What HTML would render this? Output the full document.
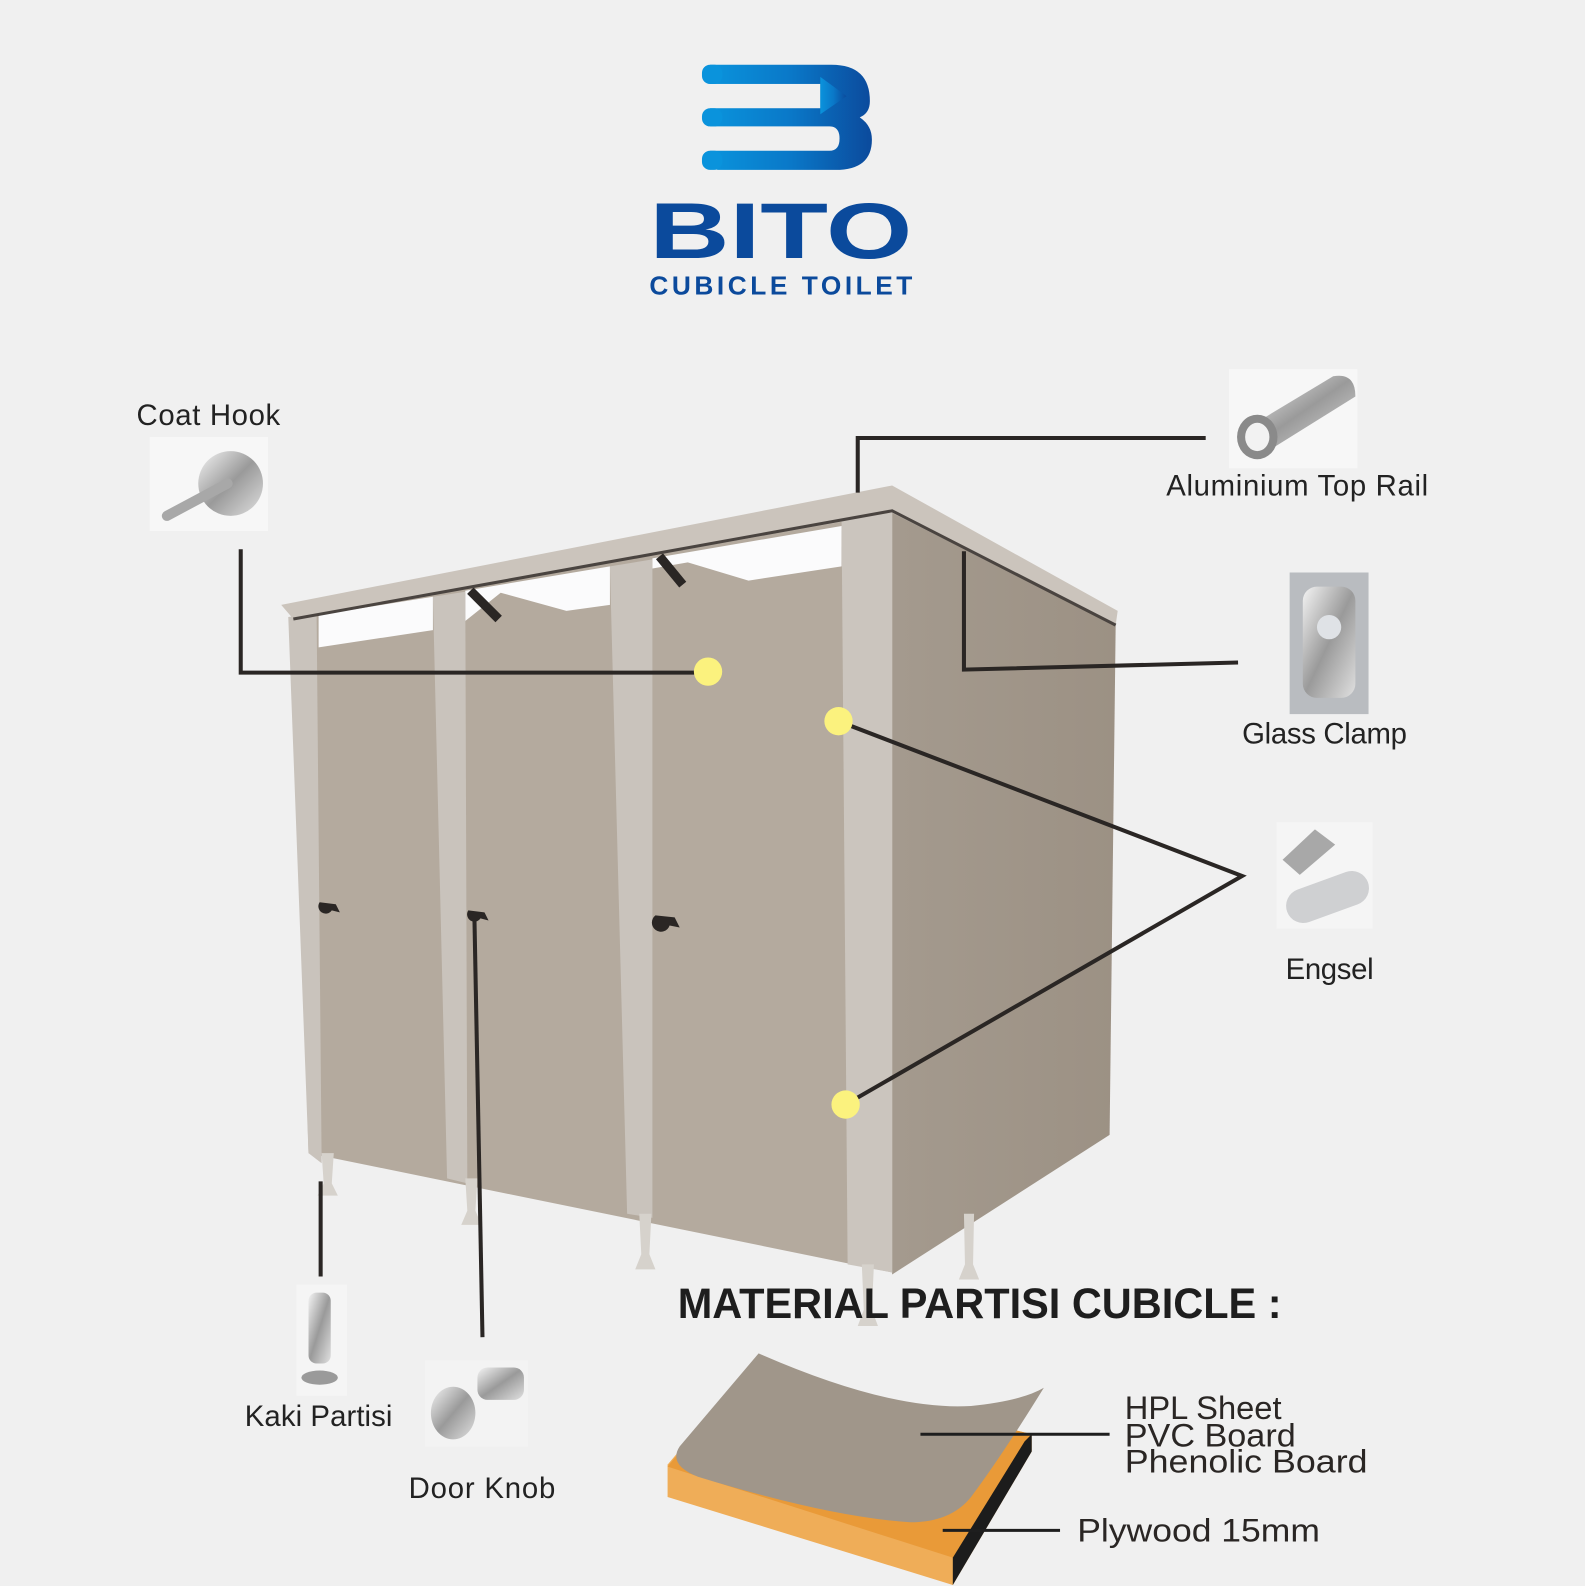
<!DOCTYPE html>
<html><head><meta charset="utf-8"><style>
html,body{margin:0;padding:0;background:#f0f0f0}
svg{display:block}
text{font-family:"Liberation Sans",sans-serif}
</style></head><body>
<svg width="1585" height="1586" viewBox="0 0 1567 1568" preserveAspectRatio="none" xmlns="http://www.w3.org/2000/svg">
<defs>
<linearGradient id="lg" x1="0" x2="1" y1="0" y2="0"><stop offset="0" stop-color="#0a93dc"/><stop offset="0.5" stop-color="#0a78c8"/><stop offset="1" stop-color="#0b4a9c"/></linearGradient>
<linearGradient id="met" x1="0" x2="1" y1="0" y2="1"><stop offset="0" stop-color="#f4f4f4"/><stop offset="0.5" stop-color="#9a9a9a"/><stop offset="1" stop-color="#e0e0e0"/></linearGradient>
<linearGradient id="side" x1="0" x2="1"><stop offset="0" stop-color="#a49a8e"/><stop offset="1" stop-color="#9c9184"/></linearGradient>
</defs>
<rect width="1567" height="1568" fill="#f0f0f0"/>

<!-- Logo -->
<path d="M712,64 H822 Q860,64 860,100 Q860,112 850,116 Q862,124 862,138 Q862,168 826,168 H712 Q702,168 702,158 V159 V64 Z" fill="url(#lg)"/>
<rect x="690" y="83" width="121" height="24" fill="#f0f0f0"/>
<polygon points="811,76 837,95 811,113" fill="url(#lg)"/>
<path d="M690,125 H820 Q830,125 830,137 Q830,149 820,149 H690 Z" fill="#f0f0f0"/>
<rect x="690" y="60" width="12" height="112" fill="#f0f0f0"/>
<rect x="694" y="64" width="20" height="19" rx="8" fill="#0a93dc"/>
<rect x="694" y="107" width="20" height="18" rx="8" fill="#0a93dc"/>
<rect x="694" y="149" width="20" height="19" rx="8" fill="#0a93dc"/>
<text x="642" y="255" font-size="78" font-weight="bold" fill="#0b4a9c" textLength="260" lengthAdjust="spacingAndGlyphs">BITO</text>
<text x="642" y="291" font-size="26" font-weight="bold" fill="#0b4a9c" textLength="260" lengthAdjust="spacing">CUBICLE TOILET</text>

<!-- Side panel -->
<polygon points="882,500 1103,618 1097,1122 882,1260" fill="url(#side)"/>
<polygon points="290,608 882,505 882,1258 305,1140" fill="#b4aa9e"/>
<polygon points="315,608 428,590 428,623 315,640" fill="#fbfbfc"/>
<polygon points="460,584 603,560 603,598 560,604 495,586 460,614" fill="#fbfbfc"/>
<polygon points="645,552 832,520 832,560 740,574 680,556 645,562" fill="#fbfbfc"/>
<line x1="465" y1="584" x2="493" y2="612" stroke="#2a2624" stroke-width="9"/>
<line x1="652" y1="550" x2="675" y2="578" stroke="#2a2624" stroke-width="9"/>
<polygon points="285,610 313,606 318,1150 305,1140" fill="#c9c3bc"/>
<polygon points="428,590 460,585 462,1170 442,1165" fill="#c9c3bc"/>
<polygon points="603,560 645,553 645,1204 620,1200" fill="#c9c3bc"/>
<polygon points="832,515 882,507 882,1258 838,1250" fill="#cbc5be"/>
<g fill="#d6d2cc">
<path d="M318,1140 h12 l-2,30 l6,12 h-20 l6,-12 z"/>
<path d="M460,1165 h12 l-2,32 l6,14 h-20 l6,-14 z"/>
<path d="M632,1200 h12 l-2,40 l6,15 h-20 l6,-15 z"/>
<path d="M852,1250 h12 l-2,45 l6,16 h-20 l6,-16 z"/>
<path d="M953,1200 h10 l-1,50 l6,15 h-20 l6,-15 z"/>
</g>
<polygon points="278,598 882,480 1105,604 1103,618 882,507 290,612" fill="#cbc4bc"/>
<polyline points="290,612 882,505 1103,618" fill="none" stroke="#4a4440" stroke-width="3"/>
<path d="M316,892 a7,7 0 1 0 12,8 l8,2 l-4,-8 z" fill="#2a2624"/>
<path d="M463,900 a7,7 0 1 0 12,8 l8,2 l-4,-8 z" fill="#2a2624"/>
<path d="M648,905 a9,9 0 1 0 14,10 l10,2 l-5,-10 z" fill="#2a2624"/>

<g stroke="#2a2624" stroke-width="4" fill="none">
<polyline points="848,487 848,433 1192,433"/>
<polyline points="953,545 953,662 1224,655"/>
<polyline points="238,543 238,665 700,665"/>
<polyline points="829,713 1228,866 836,1092"/>
<line x1="317" y1="1168" x2="317" y2="1262"/>
<line x1="469" y1="905" x2="477" y2="1322"/>
</g>
<circle cx="700" cy="664" r="14" fill="#fbf27e"/>
<circle cx="829" cy="713" r="14" fill="#fbf27e"/>
<circle cx="836" cy="1092" r="14" fill="#fbf27e"/>

<rect x="148" y="432" width="117" height="93" fill="#f7f7f7"/>
<circle cx="228" cy="478" r="32" fill="url(#met)"/>
<line x1="165" y1="510" x2="225" y2="478" stroke="#a8a8a8" stroke-width="10" stroke-linecap="round"/>
<rect x="1215" y="365" width="127" height="98" fill="#f7f7f7"/>
<path d="M1230,425 L1318,372 Q1340,368 1340,392 L1255,445 Q1225,455 1230,425 Z" fill="url(#met)"/>
<ellipse cx="1243" cy="432" rx="20" ry="22" fill="#8a8a8a"/>
<ellipse cx="1243" cy="432" rx="12" ry="14" fill="#f2f2f2"/>
<rect x="1275" y="566" width="78" height="140" fill="#b9bcc0"/>
<rect x="1288" y="580" width="52" height="110" rx="14" fill="url(#met)"/>
<circle cx="1314" cy="620" r="12" fill="#dfe2e6"/>
<rect x="1262" y="813" width="95" height="105" fill="#f5f5f5"/>
<polygon points="1268,850 1300,820 1320,835 1285,865" fill="#a8a8a8"/>
<rect x="1270" y="870" width="85" height="34" rx="17" transform="rotate(-20 1312 887)" fill="#cfd0d2"/>
<rect x="293" y="1270" width="50" height="110" fill="#f5f5f5"/>
<rect x="305" y="1278" width="22" height="70" rx="8" fill="url(#met)"/>
<ellipse cx="316" cy="1362" rx="18" ry="7" fill="#9a9a9a"/>
<rect x="420" y="1345" width="102" height="85" fill="#f3f3f3"/>
<ellipse cx="448" cy="1397" rx="22" ry="26" fill="url(#met)"/>
<rect x="472" y="1352" width="46" height="32" rx="10" fill="url(#met)"/>

<g font-size="29" fill="#222">
<text x="135" y="420" textLength="142">Coat Hook</text>
<text x="1153" y="490" textLength="259">Aluminium Top Rail</text>
<text x="1228" y="735" textLength="163">Glass Clamp</text>
<text x="1271" y="968" textLength="87">Engsel</text>
<text x="242" y="1410" textLength="146">Kaki Partisi</text>
<text x="404" y="1481" textLength="145">Door Knob</text>
</g>

<text x="670" y="1303" font-size="42" font-weight="bold" fill="#1e1e1e" textLength="597" lengthAdjust="spacingAndGlyphs">MATERIAL PARTISI CUBICLE :</text>
<polygon points="660,1448 743,1350 1020,1418 1020,1435 942,1567 660,1480" fill="#efad58"/>
<polygon points="743,1350 1020,1418 942,1540 660,1450" fill="#e99a38"/>
<polygon points="1013,1425 1020,1418 1020,1435 942,1567 942,1540" fill="#1c1c1c"/>
<path d="M750,1338 Q880,1395 960,1390 Q1010,1385 1032,1372 Q990,1440 960,1480 Q940,1505 900,1505 Q820,1500 690,1460 Q660,1448 672,1430 Z" fill="#a0968a"/>
<g stroke="#1e1e1e" stroke-width="3">
<line x1="910" y1="1418" x2="1097" y2="1418"/>
<line x1="932" y1="1513" x2="1048" y2="1513"/>
</g>
<g font-size="32" fill="#2a2624">
<text x="1112" y="1403" textLength="155" lengthAdjust="spacingAndGlyphs">HPL Sheet</text>
<text x="1112" y="1430" textLength="169" lengthAdjust="spacingAndGlyphs">PVC Board</text>
<text x="1112" y="1456" textLength="240" lengthAdjust="spacingAndGlyphs">Phenolic Board</text>
<text x="1065" y="1524" textLength="240" lengthAdjust="spacingAndGlyphs">Plywood 15mm</text>
</g>
</svg>
</body></html>
